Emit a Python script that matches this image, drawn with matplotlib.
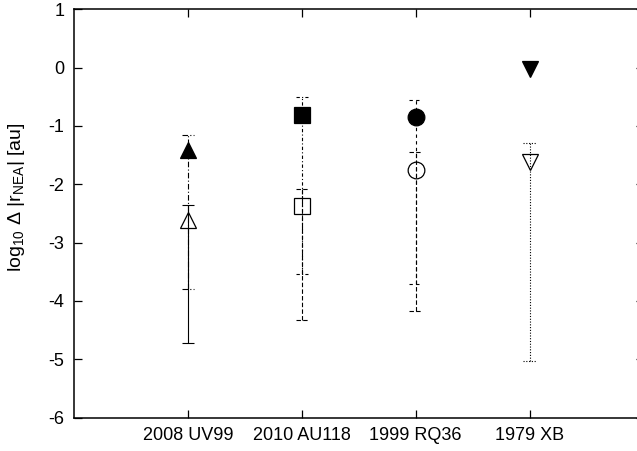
import matplotlib

matplotlib.use("Agg")

import matplotlib.pyplot as plt
import numpy as np

plt.rcParams["font.family"] = ["Liberation Sans", "DejaVu Sans"]
plt.rcParams["mathtext.default"] = "regular"
plt.rcParams["axes.unicode_minus"] = False

# ---------------------------------------------------------------------------
# Data
# ---------------------------------------------------------------------------

names = ["2008 UV99", "2010 AU118", "1999 RQ36", "1979 XB"]

filled_val = [-1.41, -0.81, -0.84, -0.03]
filled_lo = [-3.80, -3.54, -3.71, np.nan]
filled_hi = [-1.15, -0.51, -0.55, np.nan]

open_val = [-2.62, -2.38, -1.75, -1.62]
open_lo = [-4.73, -4.33, -4.17, -5.03]
open_hi = [-2.36, -2.08, -1.44, -1.30]

# styles
markers = ["^", "s", "o", "v"]
filled_ls = [(0, (5, 2, 1, 2)), (0, (3, 2, 1, 2)), (0, (3, 3)), "-"]
open_ls = ["-", (0, (4, 2)), (0, (4, 2)), (0, (1, 1.5))]
_CAP = 0.055  # half-width of error bar caps, x data units

fig = plt.figure(figsize=(6.37, 4.51), dpi=100)
ax = fig.add_axes([74 / 637, 33.5 / 451, 569.5 / 637, 408.2 / 451])

x = np.arange(1, len(names) + 1)

for i in range(len(names)):
    for val, lo, hi, ls, face in (
        (filled_val[i], filled_lo[i], filled_hi[i], filled_ls[i], "black"),
        (open_val[i], open_lo[i], open_hi[i], open_ls[i], "none"),
    ):
        if not np.isnan(lo):
            # bar and caps share the dash pattern, like gnuplot draws them
            ax.vlines(x[i], lo, hi, colors="black", linewidth=0.8, linestyles=[ls])
            ax.hlines([lo, hi], x[i] - _CAP, x[i] + _CAP, colors="black",
                      linewidth=0.8, linestyles=[ls])
        ax.plot(
            [x[i]], [val], linestyle="none", marker=markers[i], markersize=12,
            markerfacecolor=face, markeredgecolor="black", markeredgewidth=0.9,
            zorder=5,
        )

ax.set_xlim(0, 5)
ax.set_ylim(-6, 1)
ax.set_xticks(x)
ax.set_xticklabels(names)
ax.set_yticks(range(-6, 2))
ax.tick_params(direction="in", length=6, width=0.9, top=True, right=True,
               labelsize=13, pad=7)
for s in ax.spines.values():
    s.set_linewidth(1.1)
ax.set_ylabel(r"log$_{10}$ $\Delta$ |r$_{NEA}$| [au]", fontsize=14)
ax.yaxis.set_label_coords(-0.083, 0.54)

fig.savefig("out.png", dpi=100)
